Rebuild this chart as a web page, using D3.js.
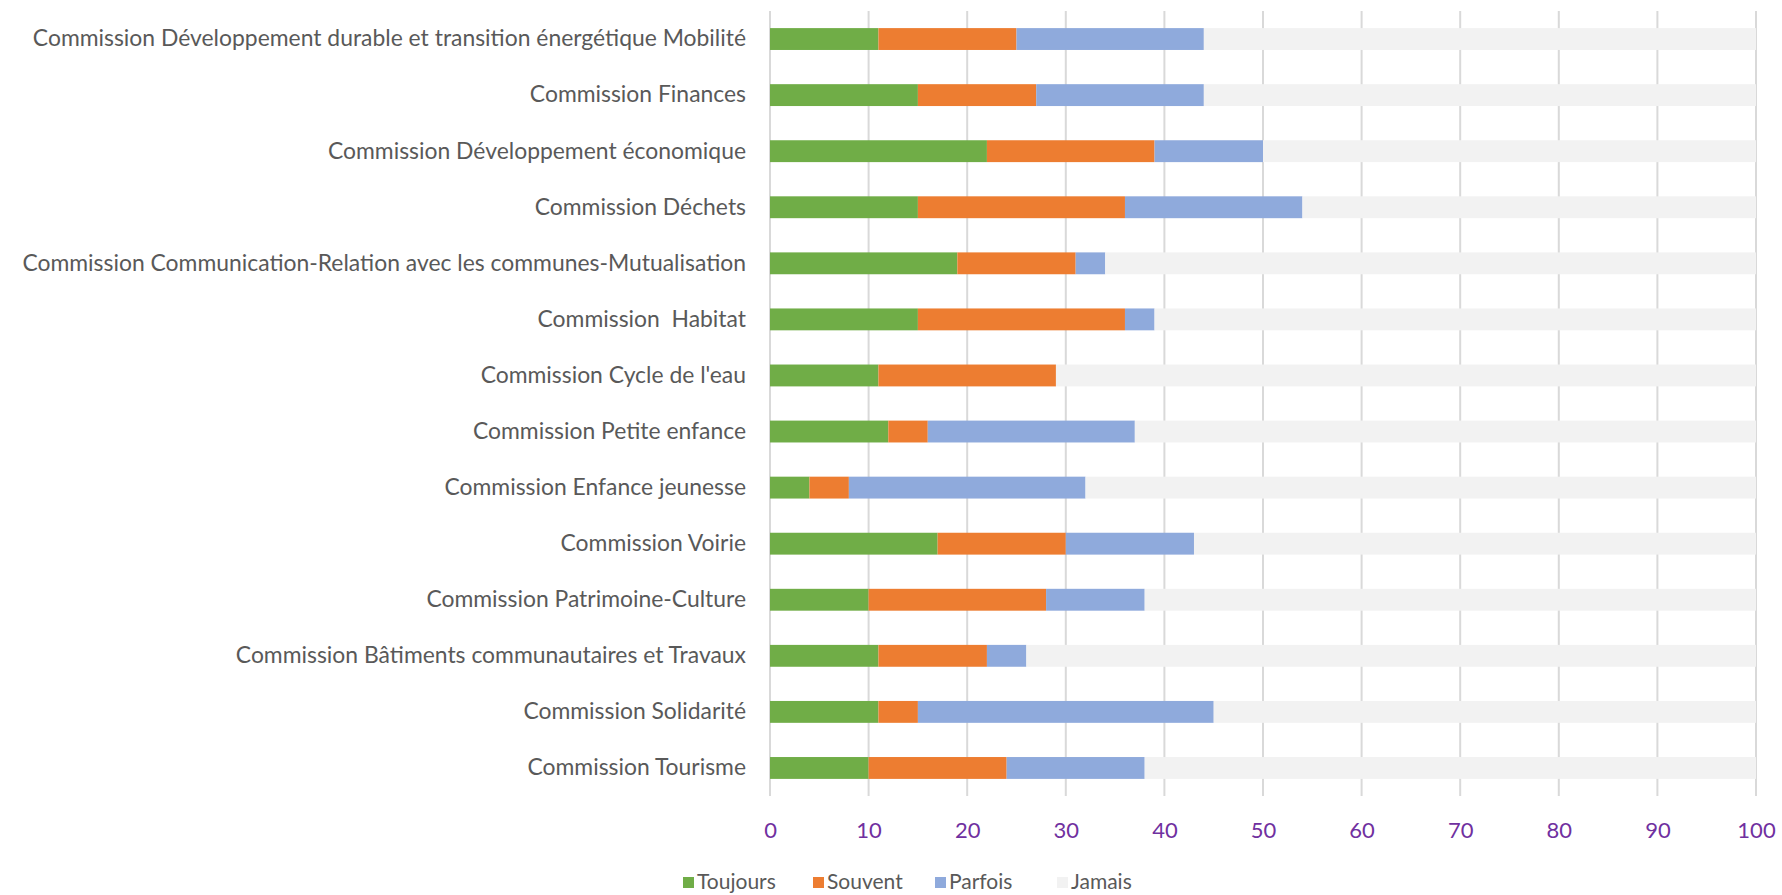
<!DOCTYPE html>
<html>
<head>
<meta charset="utf-8">
<script src="https://cdn.jsdelivr.net/npm/d3@7"></script>
<style>
  html, body { margin: 0; padding: 0; background: #fff; }
  svg { display: block; }
</style>
</head>
<body>
<svg id="chart" width="1782" height="895"></svg>
<script>
const categories = [
  "Commission Développement durable et transition énergétique Mobilité",
  "Commission Finances",
  "Commission Développement économique",
  "Commission Déchets",
  "Commission Communication-Relation avec les communes-Mutualisation",
  "Commission  Habitat",
  "Commission Cycle de l'eau",
  "Commission Petite enfance",
  "Commission Enfance jeunesse",
  "Commission Voirie",
  "Commission Patrimoine-Culture",
  "Commission Bâtiments communautaires et Travaux",
  "Commission Solidarité",
  "Commission Tourisme"
];
const seriesNames = ["Toujours", "Souvent", "Parfois", "Jamais"];
const toujours = [11, 15, 22, 15, 19, 15, 11, 12, 4, 17, 10, 11, 11, 10];
const souvent  = [14, 12, 17, 21, 12, 21, 18, 4, 4, 13, 18, 11, 4, 14];
const parfois  = [19, 17, 11, 18, 3, 3, 0, 21, 24, 13, 10, 4, 30, 14];
const jamais   = [56, 56, 50, 46, 66, 61, 71, 63, 68, 57, 62, 74, 55, 62];
const xTicks = [0, 10, 20, 30, 40, 50, 60, 70, 80, 90, 100];
const colors = ["#70AD47", "#ED7D31", "#8FAADC", "#F2F2F2"];

const rows = categories.map((c, i) => ({
  cat: c, Toujours: toujours[i], Souvent: souvent[i], Parfois: parfois[i], Jamais: jamais[i]
}));

const svg = d3.select("#chart");
const plotLeft = 770, plotRight = 1756, plotTop = 11, plotBottom = 796;
const FONT = "Lato, 'Open Sans', sans-serif";

const x = d3.scaleLinear().domain([0, 100]).range([plotLeft, plotRight]);
const y = d3.scaleBand().domain(categories).range([plotTop, plotBottom])
  .paddingInner(0.61).paddingOuter(0.305);
const color = d3.scaleOrdinal().domain(seriesNames).range(colors);

// gridlines
svg.append("g").selectAll("line").data(xTicks).join("line")
  .attr("x1", d => x(d)).attr("x2", d => x(d))
  .attr("y1", plotTop).attr("y2", plotBottom)
  .attr("stroke", "#D9D9D9").attr("stroke-width", 2);

// stacked bars
const stack = d3.stack().keys(seriesNames)(rows);
svg.append("g").selectAll("g").data(stack).join("g")
  .attr("fill", d => color(d.key))
  .selectAll("rect").data(d => d).join("rect")
  .attr("x", d => x(d[0]))
  .attr("width", d => Math.max(0, x(d[1]) - x(d[0])))
  .attr("y", d => y(d.data.cat))
  .attr("height", y.bandwidth());

// x axis labels
const xAxis = d3.axisBottom(x).tickValues(xTicks).tickSize(0).tickPadding(0);
const gx = svg.append("g").attr("transform", `translate(0, ${plotBottom + 34})`).call(xAxis);
gx.select(".domain").remove();
gx.selectAll("text")
  .attr("dy", "0.35em").attr("y", 0)
  .attr("fill", "#7030A0")
  .style("font-family", FONT)
  .style("font-size", "22px");

// y axis labels
const yAxis = d3.axisLeft(y).tickSize(0).tickPadding(0);
const gy = svg.append("g").attr("transform", `translate(746, 0)`).call(yAxis);
gy.select(".domain").remove();
const ylabels = gy.selectAll("text")
  .attr("fill", "#595959")
  .style("font-family", FONT)
  .style("font-size", "20px")
  .style("white-space", "pre");
let maxW = 0;
ylabels.each(function() { maxW = Math.max(maxW, this.getComputedTextLength()); });
ylabels.style("font-size", (20 * 724 / maxW) + "px");

// legend
const legendItems = [
  { name: "Toujours", sx: 683 },
  { name: "Souvent", sx: 813 },
  { name: "Parfois", sx: 935 },
  { name: "Jamais", sx: 1057 }
];
const lg = svg.append("g");
const li = lg.selectAll("g").data(legendItems).join("g")
  .attr("transform", d => `translate(${d.sx}, 882)`);
li.append("rect").attr("x", 0).attr("y", -5).attr("width", 11).attr("height", 11)
  .attr("fill", d => color(d.name));
li.append("text").attr("x", 14).attr("y", 0).attr("dy", "0.35em")
  .attr("fill", "#595959")
  .style("font-family", FONT)
  .style("font-size", "21px")
  .text(d => d.name);
</script>
</body>
</html>
